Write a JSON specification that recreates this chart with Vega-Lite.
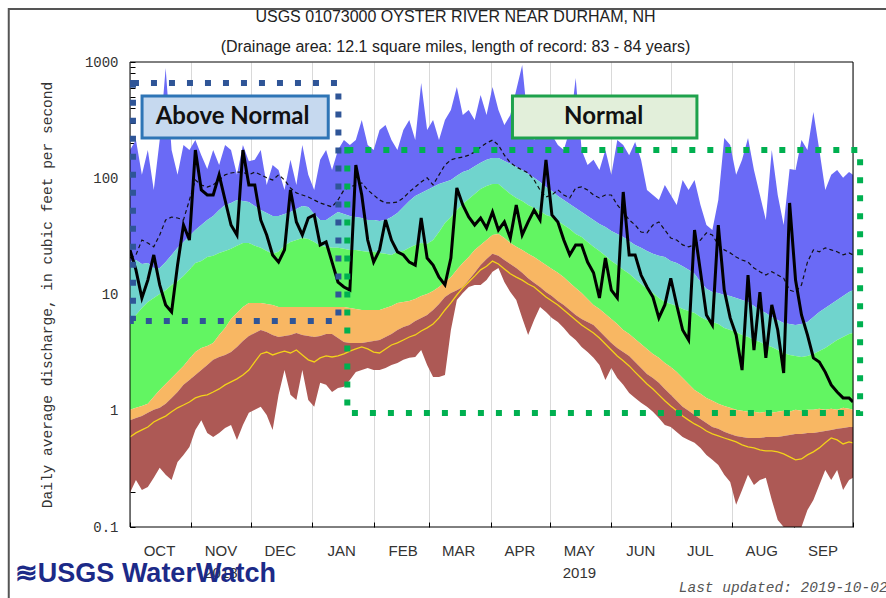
{
  "$schema": "https://vega.github.io/schema/vega-lite/v6.json",
  "width": 723,
  "height": 465,
  "autosize": {"type": "none"},
  "padding": {"left": 130, "top": 62, "right": 33, "bottom": 71},
  "background": "white",
  "config": {"view": {"stroke": null}},
  "title": {
    "text": ["USGS 01073000 OYSTER RIVER NEAR DURHAM, NH", "(Drainage area: 12.1 square miles, length of record: 83 - 84 years)"],
    "frame": "group", "anchor": "middle", "dx": -36, "offset": -63, "baseline": "bottom",
    "font": "Liberation Sans", "fontSize": 16, "fontWeight": "normal", "color": "#222", "lineHeight": 30
  },
  "data": {"values": [
    {"d":"2018-10-01","mx":175,"p90":19.0,"p75":6.04,"p25":1.02,"p10":0.83,"mn":0.197,"md":20.6,"yl":0.595,"q":24.2},
    {"d":"2018-10-04","mx":213,"p90":19.8,"p75":6.67,"p25":1.06,"p10":0.865,"mn":0.254,"md":21.9,"yl":0.645,"q":16.3},
    {"d":"2018-10-07","mx":107,"p90":18.3,"p75":7.67,"p25":1.10,"p10":0.90,"mn":0.208,"md":29.4,"yl":0.684,"q":9.34},
    {"d":"2018-10-10","mx":175,"p90":18.7,"p75":8.62,"p25":1.15,"p10":0.96,"mn":0.221,"md":27.7,"yl":0.725,"q":13.3},
    {"d":"2018-10-13","mx":79.3,"p90":16.9,"p75":9.34,"p25":1.32,"p10":1.02,"mn":0.265,"md":25.7,"yl":0.80,"q":21.9},
    {"d":"2018-10-16","mx":213,"p90":16.9,"p75":10.1,"p25":1.51,"p10":1.06,"mn":0.323,"md":32.5,"yl":0.85,"q":12.1},
    {"d":"2018-10-19","mx":888,"p90":19.0,"p75":10.9,"p25":1.70,"p10":1.15,"mn":0.281,"md":43.8,"yl":0.90,"q":8.13},
    {"d":"2018-10-22","mx":175,"p90":21.9,"p75":12.1,"p25":1.91,"p10":1.29,"mn":0.254,"md":46.4,"yl":0.98,"q":7.07},
    {"d":"2018-10-25","mx":107,"p90":25.2,"p75":13.0,"p25":2.15,"p10":1.45,"mn":0.363,"md":45.5,"yl":1.06,"q":17.9},
    {"d":"2018-10-28","mx":193,"p90":28.3,"p75":14.4,"p25":2.43,"p10":1.67,"mn":0.417,"md":43.8,"yl":1.12,"q":39.6},
    {"d":"2018-10-31","mx":175,"p90":31.9,"p75":16.3,"p25":2.80,"p10":1.84,"mn":0.488,"md":65.0,"yl":1.19,"q":29.4},
    {"d":"2018-11-03","mx":213,"p90":35.9,"p75":18.7,"p25":3.20,"p10":2.03,"mn":0.684,"md":96.6,"yl":1.29,"q":175},
    {"d":"2018-11-06","mx":158,"p90":39.6,"p75":19.4,"p25":3.47,"p10":2.24,"mn":0.83,"md":87.5,"yl":1.34,"q":79.3},
    {"d":"2018-11-09","mx":120,"p90":43.8,"p75":21.0,"p25":3.61,"p10":2.48,"mn":0.645,"md":84.1,"yl":1.37,"q":71.8},
    {"d":"2018-11-12","mx":175,"p90":47.3,"p75":21.5,"p25":3.83,"p10":2.74,"mn":0.595,"md":87.5,"yl":1.45,"q":71.8},
    {"d":"2018-11-15","mx":130,"p90":53.3,"p75":22.8,"p25":4.49,"p10":2.90,"mn":0.645,"md":96.6,"yl":1.54,"q":107},
    {"d":"2018-11-18","mx":193,"p90":58.9,"p75":23.7,"p25":5.16,"p10":3.02,"mn":0.71,"md":107,"yl":1.67,"q":65.0},
    {"d":"2018-11-21","mx":175,"p90":61.3,"p75":24.7,"p25":6.16,"p10":3.20,"mn":0.755,"md":111,"yl":1.77,"q":39.6},
    {"d":"2018-11-24","mx":107,"p90":65.0,"p75":26.2,"p25":6.94,"p10":3.54,"mn":0.561,"md":113,"yl":1.88,"q":32.5},
    {"d":"2018-11-27","mx":193,"p90":63.7,"p75":27.7,"p25":7.81,"p10":3.98,"mn":0.755,"md":113,"yl":2.03,"q":175},
    {"d":"2018-11-30","mx":140,"p90":62.5,"p75":27.7,"p25":8.46,"p10":4.40,"mn":0.96,"md":107,"yl":2.24,"q":87.5},
    {"d":"2018-12-03","mx":144,"p90":57.7,"p75":26.2,"p25":8.46,"p10":4.67,"mn":1.02,"md":113,"yl":2.63,"q":87.5},
    {"d":"2018-12-06","mx":175,"p90":53.3,"p75":25.2,"p25":8.46,"p10":4.95,"mn":1.08,"md":107,"yl":3.08,"q":43.8},
    {"d":"2018-12-09","mx":87.5,"p90":50.3,"p75":23.7,"p25":8.29,"p10":4.76,"mn":0.92,"md":101,"yl":3.20,"q":32.5},
    {"d":"2018-12-12","mx":130,"p90":47.3,"p75":22.4,"p25":8.13,"p10":4.49,"mn":0.684,"md":96.6,"yl":3.02,"q":21.9},
    {"d":"2018-12-15","mx":118,"p90":47.3,"p75":23.3,"p25":7.81,"p10":4.31,"mn":1.37,"md":107,"yl":3.14,"q":19.0},
    {"d":"2018-12-18","mx":79.3,"p90":49.2,"p75":26.2,"p25":7.81,"p10":4.40,"mn":2.24,"md":96.6,"yl":3.26,"q":24.2},
    {"d":"2018-12-21","mx":144,"p90":51.2,"p75":28.3,"p25":7.81,"p10":4.49,"mn":1.37,"md":82.5,"yl":3.14,"q":79.3},
    {"d":"2018-12-24","mx":87.5,"p90":54.4,"p75":29.4,"p25":7.81,"p10":4.67,"mn":1.24,"md":74.8,"yl":3.33,"q":42.1},
    {"d":"2018-12-27","mx":193,"p90":57.7,"p75":30.6,"p25":7.81,"p10":4.49,"mn":2.24,"md":71.8,"yl":3.02,"q":32.5},
    {"d":"2018-12-30","mx":107,"p90":56.6,"p75":30.0,"p25":7.81,"p10":4.40,"mn":1.24,"md":69.0,"yl":2.74,"q":45.5},
    {"d":"2019-01-02","mx":79.3,"p90":49.2,"p75":28.3,"p25":7.81,"p10":4.31,"mn":1.08,"md":65.0,"yl":2.63,"q":48.3},
    {"d":"2019-01-05","mx":144,"p90":43.8,"p75":26.2,"p25":7.81,"p10":4.40,"mn":1.74,"md":61.3,"yl":2.85,"q":26.7},
    {"d":"2019-01-08","mx":175,"p90":43.8,"p75":25.7,"p25":7.81,"p10":4.58,"mn":1.67,"md":58.9,"yl":2.96,"q":28.3},
    {"d":"2019-01-11","mx":118,"p90":47.3,"p75":25.2,"p25":7.81,"p10":4.58,"mn":1.45,"md":56.6,"yl":2.90,"q":19.0},
    {"d":"2019-01-14","mx":175,"p90":51.2,"p75":25.2,"p25":7.81,"p10":4.23,"mn":1.57,"md":65.0,"yl":2.96,"q":12.8},
    {"d":"2019-01-17","mx":213,"p90":49.2,"p75":24.7,"p25":7.81,"p10":3.90,"mn":1.61,"md":79.3,"yl":3.08,"q":11.6},
    {"d":"2019-01-20","mx":193,"p90":47.3,"p75":24.2,"p25":7.67,"p10":3.83,"mn":1.84,"md":84.1,"yl":3.26,"q":10.9},
    {"d":"2019-01-23","mx":213,"p90":46.4,"p75":24.2,"p25":7.51,"p10":3.83,"mn":2.15,"md":87.5,"yl":3.40,"q":130},
    {"d":"2019-01-26","mx":317,"p90":45.5,"p75":23.7,"p25":7.36,"p10":3.83,"mn":2.24,"md":91.1,"yl":3.54,"q":71.8},
    {"d":"2019-01-29","mx":193,"p90":43.8,"p75":23.3,"p25":7.36,"p10":3.90,"mn":2.33,"md":79.3,"yl":3.40,"q":29.4},
    {"d":"2019-02-01","mx":175,"p90":43.8,"p75":23.3,"p25":7.36,"p10":3.98,"mn":2.24,"md":71.8,"yl":3.20,"q":19.0},
    {"d":"2019-02-04","mx":260,"p90":42.9,"p75":22.8,"p25":7.36,"p10":4.06,"mn":2.24,"md":65.0,"yl":3.14,"q":24.2},
    {"d":"2019-02-07","mx":287,"p90":43.8,"p75":22.4,"p25":7.67,"p10":4.31,"mn":2.33,"md":61.3,"yl":3.40,"q":43.8},
    {"d":"2019-02-10","mx":213,"p90":46.4,"p75":21.9,"p25":7.97,"p10":4.58,"mn":2.48,"md":61.3,"yl":3.68,"q":29.4},
    {"d":"2019-02-13","mx":175,"p90":50.3,"p75":23.3,"p25":8.46,"p10":4.95,"mn":2.58,"md":62.5,"yl":3.83,"q":23.3},
    {"d":"2019-02-16","mx":260,"p90":56.6,"p75":23.7,"p25":8.62,"p10":5.26,"mn":2.74,"md":67.7,"yl":4.06,"q":21.9},
    {"d":"2019-02-19","mx":317,"p90":63.7,"p75":25.2,"p25":8.79,"p10":5.47,"mn":2.85,"md":76.2,"yl":4.31,"q":19.0},
    {"d":"2019-02-22","mx":213,"p90":70.4,"p75":26.7,"p25":9.15,"p10":5.92,"mn":2.90,"md":84.1,"yl":4.49,"q":17.9},
    {"d":"2019-02-25","mx":660,"p90":74.8,"p75":27.7,"p25":9.70,"p10":6.29,"mn":3.33,"md":92.8,"yl":4.85,"q":45.5},
    {"d":"2019-02-28","mx":260,"p90":79.3,"p75":27.2,"p25":10.1,"p10":6.67,"mn":2.48,"md":101,"yl":5.16,"q":20.6},
    {"d":"2019-03-03","mx":317,"p90":84.1,"p75":29.4,"p25":10.7,"p10":7.36,"mn":1.95,"md":87.5,"yl":5.58,"q":17.9},
    {"d":"2019-03-06","mx":213,"p90":89.3,"p75":34.5,"p25":11.6,"p10":8.29,"mn":1.95,"md":107,"yl":6.29,"q":14.1},
    {"d":"2019-03-09","mx":317,"p90":92.8,"p75":41.3,"p25":12.8,"p10":9.51,"mn":2.03,"md":130,"yl":7.36,"q":12.1},
    {"d":"2019-03-12","mx":386,"p90":96.6,"p75":46.4,"p25":14.1,"p10":10.3,"mn":4.95,"md":144,"yl":8.46,"q":20.6},
    {"d":"2019-03-15","mx":610,"p90":105,"p75":53.3,"p25":16.3,"p10":10.9,"mn":8.97,"md":149,"yl":9.9,"q":82.5},
    {"d":"2019-03-18","mx":350,"p90":113,"p75":60.1,"p25":18.7,"p10":11.6,"mn":10.3,"md":152,"yl":11.4,"q":58.9},
    {"d":"2019-03-21","mx":386,"p90":118,"p75":66.3,"p25":21.0,"p10":13.3,"mn":11.6,"md":158,"yl":12.8,"q":46.4},
    {"d":"2019-03-24","mx":317,"p90":127,"p75":73.3,"p25":24.2,"p10":15.4,"mn":12.1,"md":168,"yl":14.4,"q":39.6},
    {"d":"2019-03-27","mx":520,"p90":136,"p75":80.9,"p25":26.7,"p10":17.9,"mn":12.1,"md":186,"yl":16.3,"q":45.5},
    {"d":"2019-03-30","mx":350,"p90":144,"p75":85.8,"p25":29.4,"p10":20.2,"mn":13.3,"md":201,"yl":17.5,"q":37.3},
    {"d":"2019-04-02","mx":610,"p90":149,"p75":89.3,"p25":32.5,"p10":22.4,"mn":15.7,"md":213,"yl":19.4,"q":51.2},
    {"d":"2019-04-05","mx":386,"p90":149,"p75":89.3,"p25":33.2,"p10":21.5,"mn":16.9,"md":193,"yl":18.3,"q":35.9},
    {"d":"2019-04-08","mx":287,"p90":141,"p75":80.9,"p25":30.6,"p10":19.8,"mn":12.8,"md":158,"yl":16.6,"q":42.1},
    {"d":"2019-04-11","mx":350,"p90":133,"p75":73.3,"p25":27.7,"p10":18.3,"mn":10.5,"md":136,"yl":15.1,"q":30.6},
    {"d":"2019-04-14","mx":574,"p90":125,"p75":67.7,"p25":25.7,"p10":16.9,"mn":8.97,"md":125,"yl":14.1,"q":58.9},
    {"d":"2019-04-17","mx":942,"p90":118,"p75":63.7,"p25":24.2,"p10":15.4,"mn":6.29,"md":118,"yl":13.3,"q":32.5},
    {"d":"2019-04-20","mx":287,"p90":109,"p75":58.9,"p25":22.4,"p10":13.8,"mn":4.49,"md":111,"yl":12.3,"q":42.1},
    {"d":"2019-04-23","mx":213,"p90":101,"p75":55.5,"p25":21.0,"p10":12.6,"mn":6.04,"md":96.6,"yl":11.6,"q":53.3},
    {"d":"2019-04-26","mx":260,"p90":92.8,"p75":52.2,"p25":19.4,"p10":11.6,"mn":7.81,"md":79.3,"yl":10.5,"q":43.8},
    {"d":"2019-04-29","mx":230,"p90":84.1,"p75":48.3,"p25":17.9,"p10":10.5,"mn":7.07,"md":69.0,"yl":9.51,"q":144},
    {"d":"2019-05-02","mx":236,"p90":77.7,"p75":46.4,"p25":16.6,"p10":9.70,"mn":6.29,"md":71.8,"yl":8.79,"q":48.3},
    {"d":"2019-05-05","mx":193,"p90":70.4,"p75":42.9,"p25":15.4,"p10":8.79,"mn":5.80,"md":79.3,"yl":8.13,"q":42.1},
    {"d":"2019-05-08","mx":175,"p90":65.0,"p75":39.6,"p25":14.1,"p10":8.13,"mn":5.16,"md":71.8,"yl":7.36,"q":29.4},
    {"d":"2019-05-11","mx":260,"p90":60.1,"p75":36.6,"p25":12.6,"p10":7.36,"mn":4.49,"md":67.7,"yl":6.67,"q":21.9},
    {"d":"2019-05-14","mx":728,"p90":55.5,"p75":33.2,"p25":11.4,"p10":6.67,"mn":4.06,"md":82.5,"yl":6.04,"q":26.7},
    {"d":"2019-05-17","mx":175,"p90":51.2,"p75":31.2,"p25":10.3,"p10":6.16,"mn":3.54,"md":84.1,"yl":5.47,"q":26.7},
    {"d":"2019-05-20","mx":130,"p90":47.3,"p75":28.3,"p25":9.15,"p10":5.80,"mn":3.20,"md":79.3,"yl":5.05,"q":19.0},
    {"d":"2019-05-23","mx":144,"p90":43.8,"p75":25.7,"p25":8.13,"p10":5.47,"mn":2.85,"md":71.8,"yl":4.67,"q":15.4},
    {"d":"2019-05-26","mx":118,"p90":40.5,"p75":23.7,"p25":7.51,"p10":4.85,"mn":2.48,"md":67.7,"yl":4.23,"q":9.34},
    {"d":"2019-05-29","mx":175,"p90":38.1,"p75":21.5,"p25":6.80,"p10":4.31,"mn":1.84,"md":71.8,"yl":3.75,"q":20.6},
    {"d":"2019-06-01","mx":107,"p90":35.2,"p75":19.4,"p25":6.16,"p10":3.83,"mn":2.33,"md":71.8,"yl":3.33,"q":10.9},
    {"d":"2019-06-04","mx":213,"p90":33.2,"p75":17.9,"p25":5.58,"p10":3.47,"mn":1.91,"md":58.9,"yl":2.96,"q":9.34},
    {"d":"2019-06-07","mx":193,"p90":31.2,"p75":16.3,"p25":4.95,"p10":3.20,"mn":1.67,"md":51.2,"yl":2.69,"q":76.2},
    {"d":"2019-06-10","mx":158,"p90":28.8,"p75":15.1,"p25":4.58,"p10":2.96,"mn":1.42,"md":43.8,"yl":2.43,"q":21.9},
    {"d":"2019-06-13","mx":205,"p90":26.7,"p75":13.6,"p25":4.14,"p10":2.63,"mn":1.29,"md":39.6,"yl":2.15,"q":21.9},
    {"d":"2019-06-16","mx":144,"p90":25.2,"p75":12.3,"p25":3.75,"p10":2.33,"mn":1.17,"md":34.5,"yl":1.91,"q":14.7},
    {"d":"2019-06-19","mx":79.3,"p90":23.7,"p75":11.2,"p25":3.40,"p10":2.07,"mn":1.08,"md":33.9,"yl":1.70,"q":11.6},
    {"d":"2019-06-22","mx":71.8,"p90":22.4,"p75":10.3,"p25":3.08,"p10":1.91,"mn":0.98,"md":39.6,"yl":1.54,"q":9.51},
    {"d":"2019-06-25","mx":65.0,"p90":21.5,"p75":9.34,"p25":2.85,"p10":1.74,"mn":0.867,"md":42.1,"yl":1.37,"q":6.29},
    {"d":"2019-06-28","mx":87.5,"p90":21.0,"p75":8.62,"p25":2.58,"p10":1.54,"mn":0.755,"md":35.9,"yl":1.22,"q":8.13},
    {"d":"2019-07-01","mx":71.8,"p90":19.4,"p75":8.29,"p25":2.38,"p10":1.37,"mn":0.725,"md":30.6,"yl":1.10,"q":13.8},
    {"d":"2019-07-04","mx":58.9,"p90":18.7,"p75":7.97,"p25":2.15,"p10":1.22,"mn":0.657,"md":29.4,"yl":1.00,"q":8.13},
    {"d":"2019-07-07","mx":96.6,"p90":17.5,"p75":7.51,"p25":1.91,"p10":1.08,"mn":0.595,"md":26.7,"yl":0.90,"q":4.95},
    {"d":"2019-07-10","mx":79.3,"p90":16.3,"p75":7.21,"p25":1.70,"p10":1.00,"mn":0.561,"md":25.7,"yl":0.83,"q":4.06},
    {"d":"2019-07-13","mx":96.6,"p90":15.1,"p75":6.94,"p25":1.51,"p10":0.92,"mn":0.53,"md":26.7,"yl":0.77,"q":35.9},
    {"d":"2019-07-16","mx":58.9,"p90":12.8,"p75":6.41,"p25":1.40,"p10":0.85,"mn":0.479,"md":29.4,"yl":0.725,"q":15.7},
    {"d":"2019-07-19","mx":39.6,"p90":11.2,"p75":6.04,"p25":1.29,"p10":0.785,"mn":0.417,"md":33.9,"yl":0.67,"q":6.67},
    {"d":"2019-07-22","mx":35.9,"p90":10.5,"p75":5.80,"p25":1.22,"p10":0.725,"mn":0.378,"md":32.5,"yl":0.632,"q":5.47},
    {"d":"2019-07-25","mx":65.0,"p90":10.3,"p75":5.58,"p25":1.15,"p10":0.70,"mn":0.342,"md":26.7,"yl":0.607,"q":39.6},
    {"d":"2019-07-28","mx":222,"p90":9.9,"p75":5.16,"p25":1.10,"p10":0.66,"mn":0.281,"md":24.2,"yl":0.583,"q":10.9},
    {"d":"2019-07-31","mx":193,"p90":9.7,"p75":4.95,"p25":1.06,"p10":0.632,"mn":0.244,"md":22.8,"yl":0.561,"q":6.29},
    {"d":"2019-08-03","mx":107,"p90":9.34,"p75":4.76,"p25":1.02,"p10":0.607,"mn":0.155,"md":21.0,"yl":0.54,"q":4.49},
    {"d":"2019-08-06","mx":144,"p90":8.97,"p75":4.49,"p25":1.00,"p10":0.595,"mn":0.208,"md":19.8,"yl":0.508,"q":2.24},
    {"d":"2019-08-09","mx":222,"p90":8.62,"p75":4.31,"p25":0.98,"p10":0.583,"mn":0.281,"md":19.0,"yl":0.488,"q":14.7},
    {"d":"2019-08-12","mx":118,"p90":7.97,"p75":4.06,"p25":0.98,"p10":0.583,"mn":0.230,"md":16.9,"yl":0.479,"q":3.33},
    {"d":"2019-08-15","mx":71.8,"p90":7.36,"p75":3.90,"p25":0.96,"p10":0.583,"mn":0.254,"md":15.7,"yl":0.460,"q":10.5},
    {"d":"2019-08-18","mx":43.8,"p90":6.94,"p75":3.68,"p25":0.98,"p10":0.595,"mn":0.265,"md":14.7,"yl":0.451,"q":2.85},
    {"d":"2019-08-21","mx":175,"p90":6.41,"p75":3.54,"p25":0.96,"p10":0.595,"mn":0.171,"md":15.7,"yl":0.451,"q":8.13},
    {"d":"2019-08-24","mx":71.8,"p90":6.04,"p75":3.33,"p25":0.98,"p10":0.595,"mn":0.115,"md":14.7,"yl":0.443,"q":4.95},
    {"d":"2019-08-27","mx":39.6,"p90":5.69,"p75":3.14,"p25":1.00,"p10":0.607,"mn":0.1,"md":13.8,"yl":0.425,"q":2.11},
    {"d":"2019-08-30","mx":120,"p90":5.58,"p75":3.02,"p25":0.98,"p10":0.619,"mn":0.1,"md":10.9,"yl":0.401,"q":61.3},
    {"d":"2019-09-02","mx":118,"p90":5.47,"p75":2.96,"p25":1.02,"p10":0.632,"mn":0.1,"md":10.5,"yl":0.378,"q":13.3},
    {"d":"2019-09-05","mx":213,"p90":5.58,"p75":2.90,"p25":1.00,"p10":0.632,"mn":0.1,"md":12.1,"yl":0.385,"q":6.67},
    {"d":"2019-09-08","mx":175,"p90":5.80,"p75":2.96,"p25":1.02,"p10":0.645,"mn":0.140,"md":19.0,"yl":0.417,"q":4.49},
    {"d":"2019-09-11","mx":371,"p90":6.41,"p75":3.08,"p25":1.02,"p10":0.645,"mn":0.171,"md":24.2,"yl":0.443,"q":2.85},
    {"d":"2019-09-14","mx":175,"p90":7.07,"p75":3.26,"p25":1.04,"p10":0.657,"mn":0.230,"md":23.3,"yl":0.479,"q":2.63},
    {"d":"2019-09-17","mx":79.3,"p90":7.67,"p75":3.47,"p25":1.02,"p10":0.67,"mn":0.310,"md":25.2,"yl":0.53,"q":2.15},
    {"d":"2019-09-20","mx":107,"p90":8.29,"p75":3.75,"p25":1.04,"p10":0.684,"mn":0.254,"md":24.2,"yl":0.583,"q":1.67},
    {"d":"2019-09-23","mx":118,"p90":8.97,"p75":4.06,"p25":1.02,"p10":0.70,"mn":0.310,"md":23.3,"yl":0.561,"q":1.45},
    {"d":"2019-09-26","mx":101,"p90":9.70,"p75":4.31,"p25":1.06,"p10":0.71,"mn":0.208,"md":21.9,"yl":0.518,"q":1.29},
    {"d":"2019-09-29","mx":113,"p90":10.5,"p75":4.58,"p25":1.04,"p10":0.725,"mn":0.254,"md":22.8,"yl":0.54,"q":1.29},
    {"d":"2019-10-01","mx":107,"p90":10.9,"p75":4.67,"p25":1.02,"p10":0.725,"mn":0.265,"md":21.9,"yl":0.53,"q":1.19}
  ]},
  "layer": [
    {
      "mark": {"type": "area", "color": "#6a6af6", "clip": true},
      "encoding": {
        "x": {"field": "d", "type": "temporal",
          "scale": {"type": "utc", "domain": [{"year": 2018, "month": 10, "date": 1, "utc": true}, {"year": 2019, "month": 10, "date": 1, "utc": true}]},
          "axis": {
            "values": [
              {"year": 2018, "month": 10, "date": 1, "utc": true}, {"year": 2018, "month": 11, "date": 1, "utc": true},
              {"year": 2018, "month": 12, "date": 1, "utc": true}, {"year": 2019, "month": 1, "date": 1, "utc": true},
              {"year": 2019, "month": 2, "date": 1, "utc": true}, {"year": 2019, "month": 3, "date": 1, "utc": true},
              {"year": 2019, "month": 4, "date": 1, "utc": true}, {"year": 2019, "month": 5, "date": 1, "utc": true},
              {"year": 2019, "month": 6, "date": 1, "utc": true}, {"year": 2019, "month": 7, "date": 1, "utc": true},
              {"year": 2019, "month": 8, "date": 1, "utc": true}, {"year": 2019, "month": 9, "date": 1, "utc": true},
              {"year": 2019, "month": 10, "date": 1, "utc": true}
            ],
            "labelExpr": "utcFormat(datum.value,'%Y-%m')=='2019-10' ? '' : (utcFormat(datum.value,'%Y-%m')=='2018-11' ? ['NOV','2018'] : (utcFormat(datum.value,'%Y-%m')=='2019-05' ? ['MAY','2019'] : upper(utcFormat(datum.value,'%b'))))",
            "labelOffset": 29, "labelAlign": "center", "labelPadding": 21, "tickSize": -5, "tickColor": "black",
            "grid": true, "gridColor": "#d9d9d9", "domain": false, "title": null,
            "labelFont": "Liberation Sans", "labelFontSize": 15, "labelColor": "#333",
            "labelLineHeight": 22, "labelOverlap": false, "labelBound": false, "labelFlush": false
          }
        },
        "y": {"field": "mx", "type": "quantitative",
          "scale": {"type": "log", "domain": [0.1, 1000], "nice": false},
          "axis": {
            "values": [0.1,0.2,0.3,0.4,0.5,0.6,0.7,0.8,0.9,1,2,3,4,5,6,7,8,9,10,20,30,40,50,60,70,80,90,100,200,300,400,500,600,700,800,900,1000],
            "format": ".1~f",
            "labelExpr": "datum.value == 0.1 || datum.value == 1 || datum.value == 10 || datum.value == 100 || datum.value == 1000 ? datum.label : ''",
            "tickSize": -5, "tickColor": "black", "labelPadding": 17, "grid": false, "domain": false, "labelOverlap": false,
            "labelFont": "Liberation Mono", "labelFontSize": 14, "labelColor": "#333",
            "title": "Daily average discharge, in cubic feet per second",
            "titleFont": "Liberation Mono", "titleFontSize": 14.5, "titleFontWeight": "normal", "titleColor": "#333", "titlePadding": 30
          }
        },
        "y2": {"field": "p90"}
      }
    },
    {"mark": {"type": "area", "color": "#70d4cd", "clip": true},
     "encoding": {"x": {"field": "d", "type": "temporal"}, "y": {"field": "p90", "type": "quantitative"}, "y2": {"field": "p75"}}},
    {"mark": {"type": "area", "color": "#62f562", "clip": true},
     "encoding": {"x": {"field": "d", "type": "temporal"}, "y": {"field": "p75", "type": "quantitative"}, "y2": {"field": "p25"}}},
    {"mark": {"type": "area", "color": "#f8b763", "clip": true},
     "encoding": {"x": {"field": "d", "type": "temporal"}, "y": {"field": "p25", "type": "quantitative"}, "y2": {"field": "p10"}}},
    {"mark": {"type": "area", "color": "#ad5955", "clip": true},
     "encoding": {"x": {"field": "d", "type": "temporal"}, "y": {"field": "p10", "type": "quantitative"}, "y2": {"field": "mn"}}},
    {"mark": {"type": "line", "color": "#f3d21a", "strokeWidth": 1.3, "clip": true},
     "encoding": {"x": {"field": "d", "type": "temporal"}, "y": {"field": "yl", "type": "quantitative"}}},
    {"mark": {"type": "line", "color": "#111", "strokeWidth": 1.2, "strokeDash": [4, 3], "clip": true},
     "encoding": {"x": {"field": "d", "type": "temporal"}, "y": {"field": "md", "type": "quantitative"}}},
    {"mark": {"type": "line", "color": "black", "strokeWidth": 3, "clip": true},
     "encoding": {"x": {"field": "d", "type": "temporal"}, "y": {"field": "q", "type": "quantitative"}}},
    {"data": {"values": [{}]},
     "mark": {"type": "rect", "fill": "transparent", "stroke": "black", "strokeWidth": 1},
     "encoding": {
       "x": {"datum": {"year": 2018, "month": 10, "date": 1, "utc": true}, "type": "temporal"},
       "x2": {"datum": {"year": 2019, "month": 10, "date": 1, "utc": true}},
       "y": {"datum": 1000, "type": "quantitative"}, "y2": {"datum": 0.1}}},
    {"data": {"values": [{}]},
     "mark": {"type": "rect", "fill": "transparent", "stroke": "#2f5597", "strokeWidth": 6, "strokeDash": [6, 12]},
     "encoding": {
       "x": {"datum": {"year": 2018, "month": 10, "date": 2, "hours": 12, "utc": true}, "type": "temporal"},
       "x2": {"datum": {"year": 2019, "month": 1, "date": 14, "hours": 5, "utc": true}},
       "y": {"datum": 660, "type": "quantitative"}, "y2": {"datum": 5.92}}},
    {"data": {"values": [{}]},
     "mark": {"type": "rect", "fill": "transparent", "stroke": "#00b050", "strokeWidth": 6, "strokeDash": [6, 12]},
     "encoding": {
       "x": {"datum": {"year": 2019, "month": 1, "date": 18, "hours": 17, "utc": true}, "type": "temporal"},
       "x2": {"datum": {"year": 2019, "month": 10, "date": 4, "hours": 14, "utc": true}},
       "y": {"datum": 175, "type": "quantitative"}, "y2": {"datum": 0.956}}},
    {"data": {"values": [{}]},
     "mark": {"type": "rect", "fill": "#c6d9ef", "stroke": "#2e75b6", "strokeWidth": 3},
     "encoding": {
       "x": {"datum": {"year": 2018, "month": 10, "date": 7, "hours": 2, "utc": true}, "type": "temporal"},
       "x2": {"datum": {"year": 2019, "month": 1, "date": 9, "hours": 2, "utc": true}},
       "y": {"datum": 510, "type": "quantitative"}, "y2": {"datum": 222}}},
    {"data": {"values": [{}]},
     "mark": {"type": "rect", "fill": "#e2efda", "stroke": "#1ea24c", "strokeWidth": 3},
     "encoding": {
       "x": {"datum": {"year": 2019, "month": 4, "date": 12, "hours": 2, "utc": true}, "type": "temporal"},
       "x2": {"datum": {"year": 2019, "month": 7, "date": 14, "hours": 5, "utc": true}},
       "y": {"datum": 510, "type": "quantitative"}, "y2": {"datum": 222}}},
    {"data": {"values": [{}]},
     "mark": {"type": "text", "text": "Above Normal", "font": "Lato", "fontWeight": "bold", "fontSize": 24, "color": "#111", "align": "center", "baseline": "middle"},
     "encoding": {
       "x": {"datum": {"year": 2018, "month": 11, "date": 21, "hours": 19, "utc": true}, "type": "temporal"},
       "y": {"datum": 337, "type": "quantitative"}}},
    {"data": {"values": [{}]},
     "mark": {"type": "text", "text": "Normal", "font": "Lato", "fontWeight": "bold", "fontSize": 24, "color": "#111", "align": "center", "baseline": "middle"},
     "encoding": {
       "x": {"datum": {"year": 2019, "month": 5, "date": 28, "hours": 3, "utc": true}, "type": "temporal"},
       "y": {"datum": 337, "type": "quantitative"}}},
    {"data": {"values": [{}]},
     "mark": {"type": "text", "text": "≋USGS WaterWatch", "font": "Liberation Sans", "fontWeight": "bold", "fontSize": 27, "color": "#1c2a88", "align": "left", "baseline": "middle"},
     "encoding": {
       "x": {"datum": {"year": 2018, "month": 8, "date": 3, "hours": 21, "utc": true}, "type": "temporal"},
       "y": {"datum": 0.0394, "type": "quantitative"}}},
    {"data": {"values": [{}]},
     "mark": {"type": "text", "text": "Last updated: 2019-10-02", "font": "Liberation Mono", "fontStyle": "italic", "fontSize": 14.5, "color": "#555", "align": "left", "baseline": "middle"},
     "encoding": {
       "x": {"datum": {"year": 2019, "month": 7, "date": 5, "hours": 1, "utc": true}, "type": "temporal"},
       "y": {"datum": 0.0299, "type": "quantitative"}}},
    {"data": {"values": [{}]},
     "mark": {"type": "rect", "fill": "transparent", "stroke": "#555", "strokeWidth": 2},
     "encoding": {
       "x": {"datum": {"year": 2018, "month": 7, "date": 31, "hours": 19, "utc": true}, "type": "temporal"},
       "x2": {"datum": {"year": 2019, "month": 10, "date": 25, "utc": true}},
       "y": {"datum": 2858, "type": "quantitative"}, "y2": {"datum": 0.01}}}
  ]
}
